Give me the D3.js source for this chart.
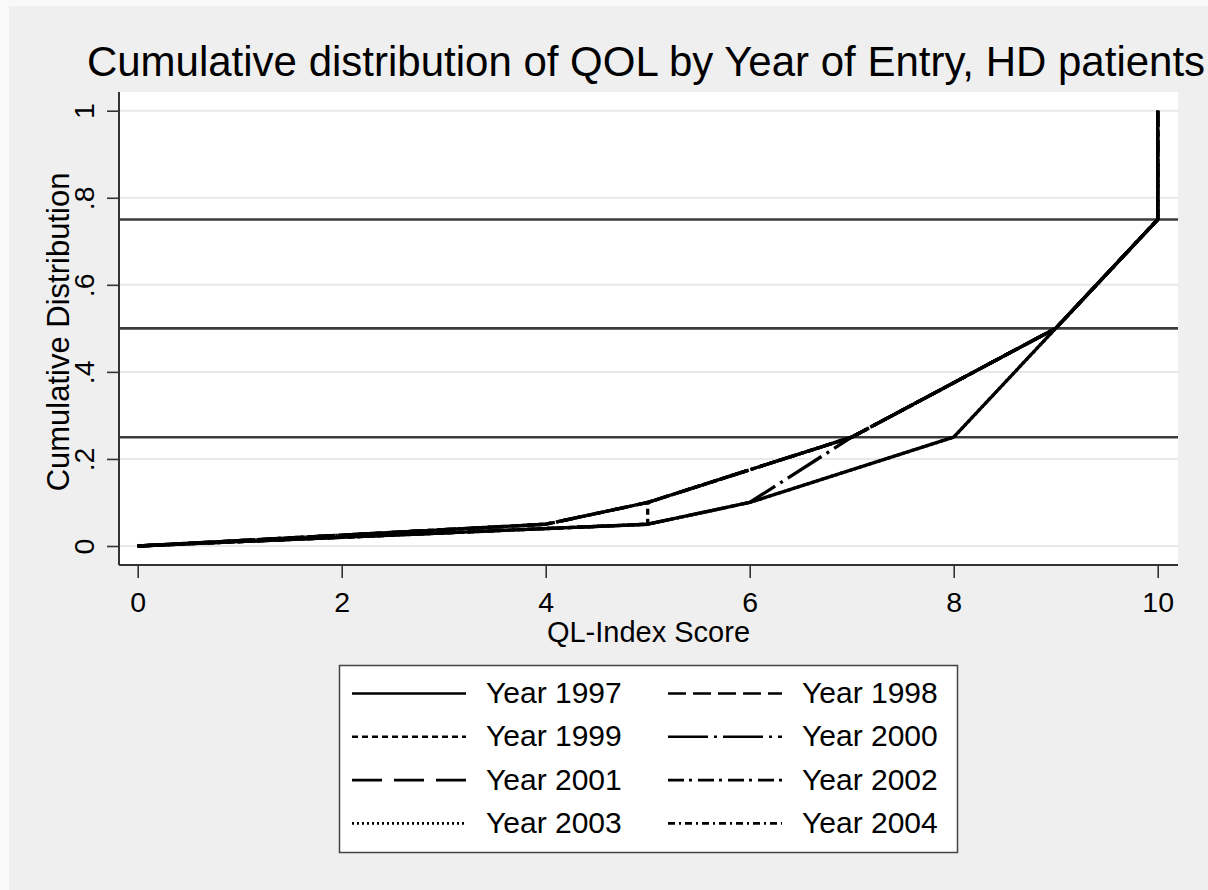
<!DOCTYPE html>
<html>
<head>
<meta charset="utf-8">
<script src="https://cdnjs.cloudflare.com/ajax/libs/d3/7.8.5/d3.min.js"></script>
<style>
  html, body { margin: 0; padding: 0; background: #f9f9f9; }
  svg { display: block; font-family: "Liberation Sans", Arial, sans-serif; }
</style>
</head>
<body>
<div id="chart"></div>
<script>
// cumulative levels (y) and QL-index score at each level (x), one array per entry year
var levels = [0, 0.05, 0.1, 0.25, 0.5, 0.75, 1];
var years = ["Year 1997", "Year 1998", "Year 1999", "Year 2000",
             "Year 2001", "Year 2002", "Year 2003", "Year 2004"];
var q1997 = [0, 5, 6, 8, 9, 10, 10];
var q1998 = [0, 4, 5, 7, 9, 10, 10];
var q1999 = [0, 5, 5, 7, 9, 10, 10];
var q2000 = [0, 5, 6, 7, 9, 10, 10];
var q2001 = [0, 4, 5, 7, 9, 10, 10];
var q2002 = [0, 4, 5, 7, 9, 10, 10];
var q2003 = [0, 5, 6, 8, 9, 10, 10];
var q2004 = [0, 4, 5, 7, 9, 10, 10];
var scores = [q1997, q1998, q1999, q2000, q2001, q2002, q2003, q2004];
var refLines = [0.25, 0.5, 0.75];
var xTicks = [0, 2, 4, 6, 8, 10];
var yTicks = [0, 0.2, 0.4, 0.6, 0.8, 1];
var yTickLabels = ["0", ".2", ".4", ".6", ".8", "1"];

// Stata-like line patterns
var dashes = ["none", "18 7", "6 4", "40 6 3 6", "30 12", "16 5 3 6", "2 3", "7 4 2 4"];

var width = 1208, height = 890;
var plot = { left: 119, right: 1178, top: 92, bottom: 565 };

var svg = d3.select("#chart").append("svg")
    .attr("width", width)
    .attr("height", height);

svg.append("rect")
    .attr("x", 9).attr("y", 6)
    .attr("width", width - 9).attr("height", height - 6)
    .attr("fill", "#efefef");

svg.append("rect")
    .attr("x", plot.left).attr("y", plot.top)
    .attr("width", plot.right - plot.left)
    .attr("height", plot.bottom - plot.top)
    .attr("fill", "#fff");

var x = d3.scaleLinear().domain([0, 10]).range([137.7, 1157.7]);
var y = d3.scaleLinear().domain([0, 1]).range([546, 110.7]);

// grid
svg.append("g").selectAll("line")
    .data(yTicks)
    .enter().append("line")
    .attr("x1", plot.left).attr("x2", plot.right)
    .attr("y1", function(d) { return y(d); })
    .attr("y2", function(d) { return y(d); })
    .attr("stroke", "#e8e8e8")
    .attr("stroke-width", 2);

// reference lines
svg.append("g").selectAll("line")
    .data(refLines)
    .enter().append("line")
    .attr("x1", plot.left).attr("x2", plot.right)
    .attr("y1", function(d) { return y(d); })
    .attr("y2", function(d) { return y(d); })
    .attr("stroke", "#3c3c3c")
    .attr("stroke-width", 2.6);

// series
var line = d3.line()
    .x(function(d) { return x(d[0]); })
    .y(function(d) { return y(d[1]); });

svg.append("g").selectAll("path")
    .data(scores)
    .enter().append("path")
    .attr("d", function(s) { return line(s.map(function(v, i) { return [v, levels[i]]; })); })
    .attr("fill", "none")
    .attr("stroke", "#000")
    .attr("stroke-width", 3.3)
    .attr("stroke-linejoin", "round")
    .attr("stroke-dasharray", function(d, i) { return dashes[i]; });

// axes
var xAxis = svg.append("g")
    .attr("transform", "translate(0," + plot.bottom + ")")
    .call(d3.axisBottom(x).tickValues(xTicks).tickSize(13).tickSizeOuter(0));
xAxis.select(".domain").attr("d", "M" + plot.left + ",0H" + plot.right);

var yAxis = svg.append("g")
    .attr("transform", "translate(" + plot.left + ",0)")
    .call(d3.axisLeft(y).tickValues(yTicks).tickSize(12).tickSizeOuter(0)
        .tickFormat(function(d, i) { return yTickLabels[i]; }));
yAxis.select(".domain").attr("d", "M0," + plot.top + "V" + plot.bottom);

svg.selectAll(".domain").attr("stroke", "#333").attr("stroke-width", 2);
svg.selectAll(".tick line").attr("stroke", "#333").attr("stroke-width", 1.6);

xAxis.selectAll("text")
    .attr("font-size", 28.5)
    .attr("fill", "#000")
    .attr("font-family", null)
    .attr("dy", null)
    .attr("y", 47);

yAxis.selectAll("text")
    .attr("font-size", 28.5)
    .attr("fill", "#000")
    .attr("font-family", null)
    .attr("x", null).attr("dy", null)
    .attr("text-anchor", "middle")
    .attr("transform", "translate(-25,0) rotate(-90)");

// titles
svg.append("text")
    .attr("x", 646).attr("y", 76)
    .attr("text-anchor", "middle")
    .attr("font-size", 42)
    .text("Cumulative distribution of QOL by Year of Entry, HD patients");

svg.append("text")
    .attr("x", (plot.left + plot.right) / 2).attr("y", 642)
    .attr("text-anchor", "middle")
    .attr("font-size", 29)
    .text("QL-Index Score");

svg.append("text")
    .attr("transform", "translate(69,332) rotate(-90)")
    .attr("text-anchor", "middle")
    .attr("font-size", 31)
    .text("Cumulative Distribution");

// legend
var legend = svg.append("g");
legend.append("rect")
    .attr("x", 339.5).attr("y", 665.5)
    .attr("width", 618).attr("height", 187)
    .attr("fill", "#fff")
    .attr("stroke", "#444")
    .attr("stroke-width", 1.5);

var items = legend.selectAll("g.item")
    .data(years)
    .enter().append("g")
    .attr("class", "item")
    .attr("transform", function(d, i) {
        return "translate(" + (i % 2 === 0 ? 352 : 668) + "," + (693.5 + Math.floor(i / 2) * 43.3) + ")";
    });

items.append("line")
    .attr("x1", 0).attr("x2", 114)
    .attr("y1", 0).attr("y2", 0)
    .attr("stroke", "#000")
    .attr("stroke-width", 2.6)
    .attr("stroke-dasharray", function(d, i) { return dashes[i]; });

items.append("text")
    .attr("x", 134).attr("y", 9.5)
    .attr("font-size", 30)
    .text(function(d) { return d; });
</script>
</body>
</html>
